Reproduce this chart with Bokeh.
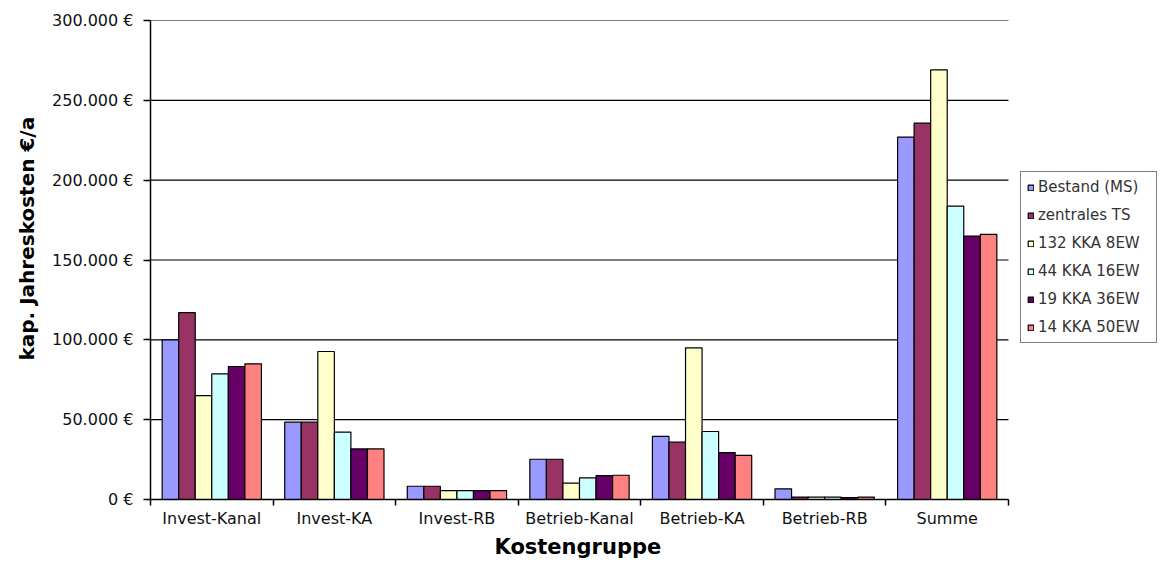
from bokeh.plotting import figure
from bokeh.models import ColumnDataSource, FixedTicker, Range1d, Legend, LegendItem, Title
from bokeh.transform import dodge
from bokeh.embed import file_html
from bokeh.resources import INLINE

categories = ["Invest-Kanal", "Invest-KA", "Invest-RB", "Betrieb-Kanal", "Betrieb-KA", "Betrieb-RB", "Summe"]
series_names = ["Bestand (MS)", "zentrales TS", "132 KKA 8EW", "44 KKA 16EW", "19 KKA 36EW", "14 KKA 50EW"]
bestand = [100000, 48400, 8300, 25200, 39500, 6700, 227000]
zentrales = [117000, 48400, 8300, 25200, 35900, 1500, 235700]
kka132 = [65000, 92700, 5600, 10200, 95000, 1500, 269100]
kka44 = [78700, 42200, 5600, 13600, 42600, 1500, 183700]
kka19 = [83300, 31700, 5600, 15000, 29400, 1200, 165000]
kka14 = [85000, 31700, 5600, 15200, 27600, 1500, 166000]
y_ticks = [0, 50000, 100000, 150000, 200000, 250000, 300000]
y_tick_labels = ["0 €", "50.000 €", "100.000 €", "150.000 €", "200.000 €", "250.000 €", "300.000 €"]
x_title = "Kostengruppe"
y_title = "kap. Jahreskosten €/a"

colors = ["#9999FF", "#993366", "#FFFFCC", "#CCFFFF", "#660066", "#FF8080"]
series = [bestand, zentrales, kka132, kka44, kka19, kka14]
keys = ["s0", "s1", "s2", "s3", "s4", "s5"]

n = len(categories)
centers = [i + 0.5 for i in range(n)]
data = {"x": centers}
for k, s in zip(keys, series):
    data[k] = s
source = ColumnDataSource(data)

FONT = "DejaVu Sans"

W, H = 1168, 572
LEFT, RIGHT_PLOT, TOP, BOTTOM = 150, 1008, 20, 73
x_end = n * (W - LEFT) / (RIGHT_PLOT - LEFT)   # room on the right for the legend

p = figure(width=W, height=H, output_backend="svg", toolbar_location=None,
           x_range=Range1d(0, x_end), y_range=Range1d(0, 300000),
           min_border_left=LEFT, min_border_right=0, min_border_top=TOP, min_border_bottom=BOTTOM)
p.outline_line_color = None
p.background_fill_color = "white"
p.border_fill_color = "white"

# horizontal gridlines (limited to the category area)
p.ygrid.grid_line_color = None
p.xgrid.grid_line_color = None
p.segment(x0=[0] * len(y_ticks), x1=[n] * len(y_ticks), y0=y_ticks, y1=y_ticks,
          line_color="black", line_width=1.2, level="underlay")

bw = 0.135
renderers = []
for i, (k, c) in enumerate(zip(keys, colors)):
    off = (i - 2.5) * bw
    r = p.vbar(x=dodge("x", off), top=k, width=bw, source=source,
               fill_color=c, line_color="black", line_width=1.2)
    renderers.append(r)

# x axis
xt = FixedTicker(ticks=centers, minor_ticks=list(range(n + 1)))
p.xaxis.ticker = xt
p.xaxis.bounds = (0, n)
p.xaxis.major_label_overrides = {c: lab for c, lab in zip(centers, categories)}
p.xaxis.major_tick_out = 0
p.xaxis.major_tick_in = 0
p.xaxis.minor_tick_out = 6
p.xaxis.minor_tick_in = 0
p.xaxis.minor_tick_line_color = "black"
p.xaxis.minor_tick_line_width = 1.5
p.xaxis.axis_line_color = "black"
p.xaxis.axis_line_width = 1.5
p.xaxis.major_label_text_font = FONT
p.xaxis.major_label_text_font_size = "16px"
p.xaxis.major_label_text_color = "#111111"
p.xaxis.major_label_standoff = 3

# y axis
p.yaxis.ticker = FixedTicker(ticks=y_ticks)
p.yaxis.major_label_overrides = {t: lab for t, lab in zip(y_ticks, y_tick_labels)}
p.yaxis.major_tick_out = 7
p.yaxis.major_tick_in = 0
p.yaxis.minor_tick_out = 0
p.yaxis.minor_tick_in = 0
p.yaxis.major_tick_line_color = "black"
p.yaxis.major_tick_line_width = 1.5
p.yaxis.axis_line_color = "black"
p.yaxis.axis_line_width = 1.5
p.yaxis.major_label_text_font = FONT
p.yaxis.major_label_text_font_size = "16px"
p.yaxis.major_label_text_color = "#111111"
p.yaxis.major_label_standoff = 10

# axis titles as side titles (so they can be placed like the reference)
xt_title = Title(text=x_title, align="left", offset=344, standoff=5,
                 text_font=FONT, text_font_size="21px", text_font_style="bold", text_color="black")
p.add_layout(xt_title, "below")
yt_title = Title(text=y_title, align="left", offset=139, standoff=21,
                 text_font=FONT, text_font_size="20px", text_font_style="bold", text_color="black")
p.add_layout(yt_title, "left")

legend = Legend(items=[LegendItem(label=nm, renderers=[r]) for nm, r in zip(series_names, renderers)],
                location=(870, 156), orientation="vertical",
                glyph_width=7, glyph_height=7, label_standoff=4, label_width=112,
                label_height=18, spacing=10, padding=6, margin=0,
                label_text_font=FONT, label_text_font_size="15px", label_text_color="#333333",
                border_line_color="black", border_line_width=1.2,
                background_fill_color="white", background_fill_alpha=1.0)
p.add_layout(legend, "center")

open("out.html", "w").write(file_html(p, INLINE))
